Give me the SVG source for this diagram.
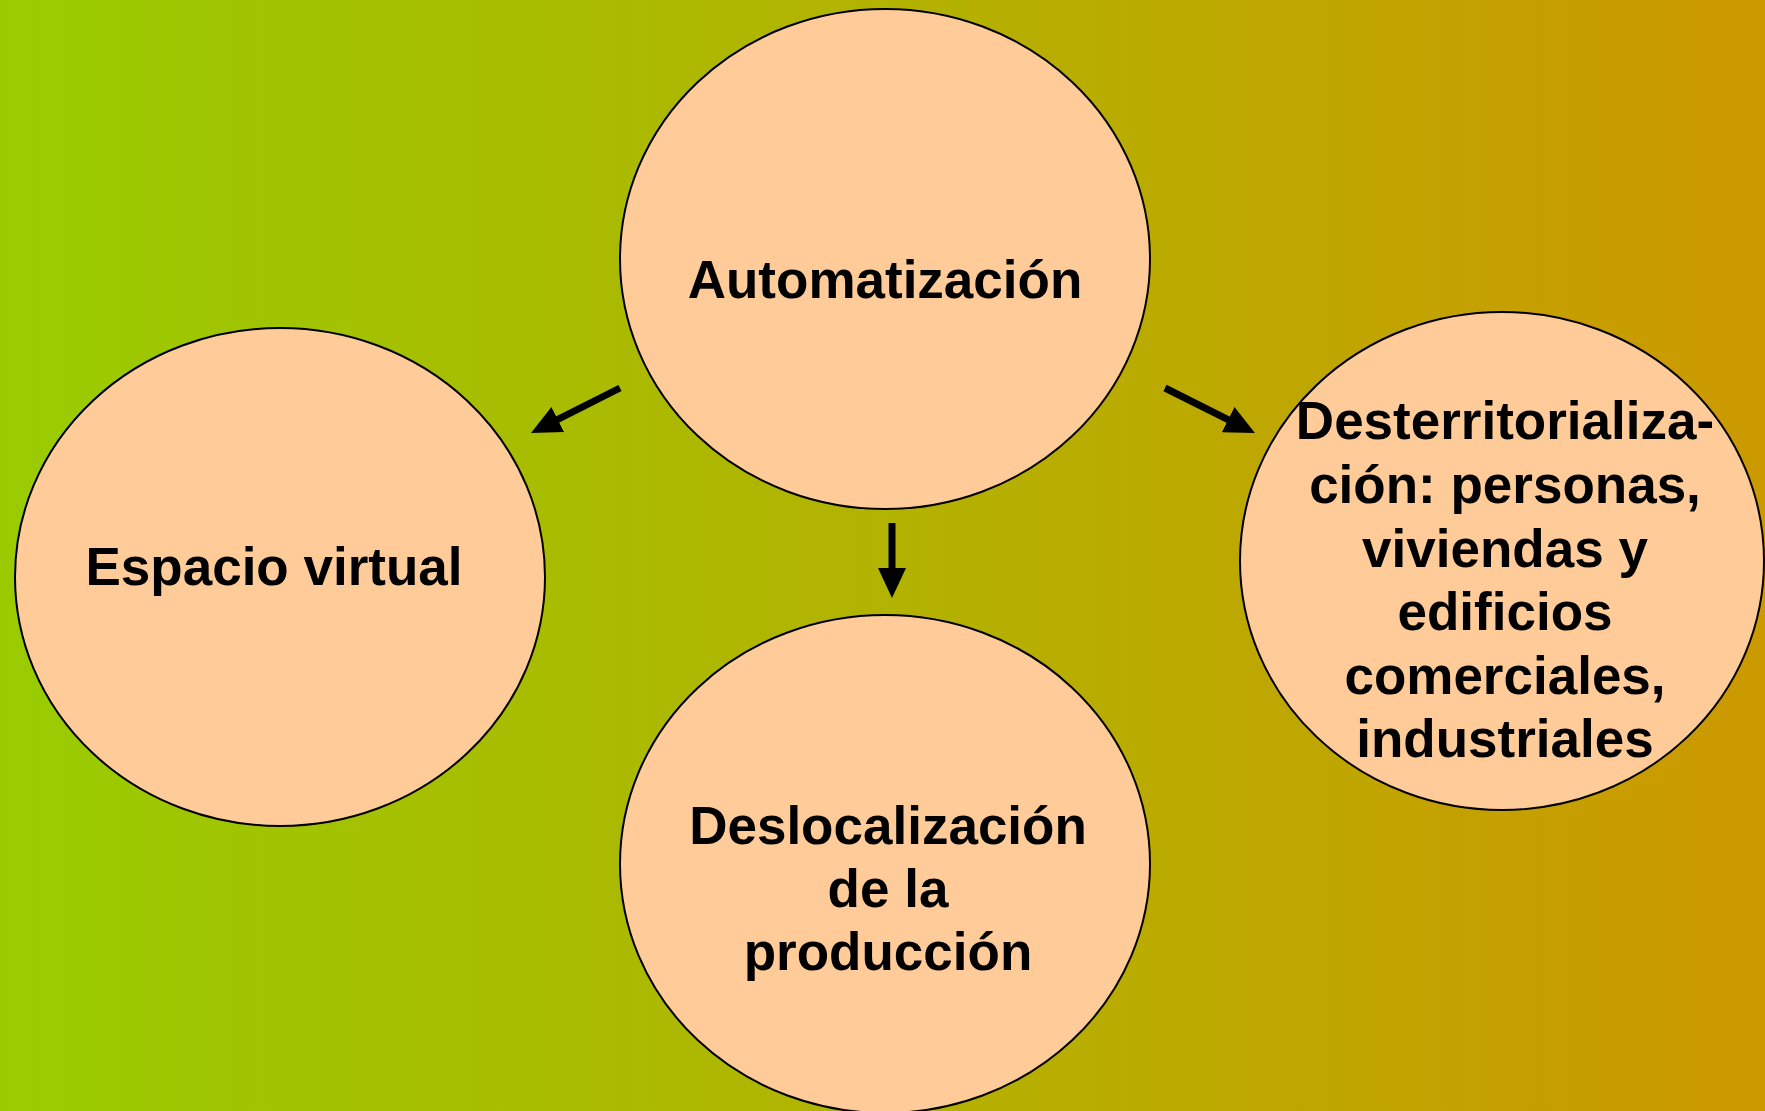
<svg xmlns="http://www.w3.org/2000/svg" width="1765" height="1111" viewBox="0 0 1765 1111">
<defs>
<linearGradient id="bg" x1="0" y1="0" x2="1" y2="0">
<stop offset="0" stop-color="#99CC00"/>
<stop offset="1" stop-color="#CC9900"/>
</linearGradient>
<marker id="ah" markerUnits="userSpaceOnUse" markerWidth="34" markerHeight="28" refX="6" refY="14" orient="auto">
<path d="M0,0 L30,14 L0,28 Z" fill="#000"/>
</marker>
<style>
.node{fill:#FFCC99;stroke:#000;stroke-width:2}
.lbl{font-family:"Liberation Sans",Arial,sans-serif;font-weight:bold;font-size:53px;fill:#000;text-anchor:middle}
.conn{stroke:#000;stroke-width:7;fill:none;marker-end:url(#ah)}
</style>
</defs>
<rect x="0" y="0" width="1765" height="1111" fill="url(#bg)"/>
<g id="connectors">
<line class="conn" x1="620" y1="388" x2="552.4" y2="422.2"/>
<line class="conn" x1="1165" y1="388" x2="1233.5" y2="422.3"/>
<line class="conn" x1="892" y1="523" x2="892" y2="574"/>
</g>
<g id="automatizacion">
<ellipse class="node" cx="885" cy="259" rx="265" ry="250"/>
<text class="lbl" x="885" y="298">Automatización</text>
</g>
<g id="espacio-virtual">
<ellipse class="node" cx="280" cy="577" rx="265" ry="249"/>
<text class="lbl" x="274" y="585">Espacio virtual</text>
</g>
<g id="desterritorializacion">
<ellipse class="node" cx="1502" cy="561" rx="262" ry="249"/>
<text class="lbl" x="1505" y="439">Desterritorializa-</text>
<text class="lbl" x="1505" y="503">ción: personas,</text>
<text class="lbl" x="1505" y="567">viviendas y</text>
<text class="lbl" x="1505" y="630">edificios</text>
<text class="lbl" x="1505" y="694">comerciales,</text>
<text class="lbl" x="1505" y="757">industriales</text>
</g>
<g id="deslocalizacion">
<ellipse class="node" cx="885" cy="864" rx="265" ry="249"/>
<text class="lbl" x="888" y="844">Deslocalización</text>
<text class="lbl" x="888" y="907">de la</text>
<text class="lbl" x="888" y="970">producción</text>
</g>
</svg>
